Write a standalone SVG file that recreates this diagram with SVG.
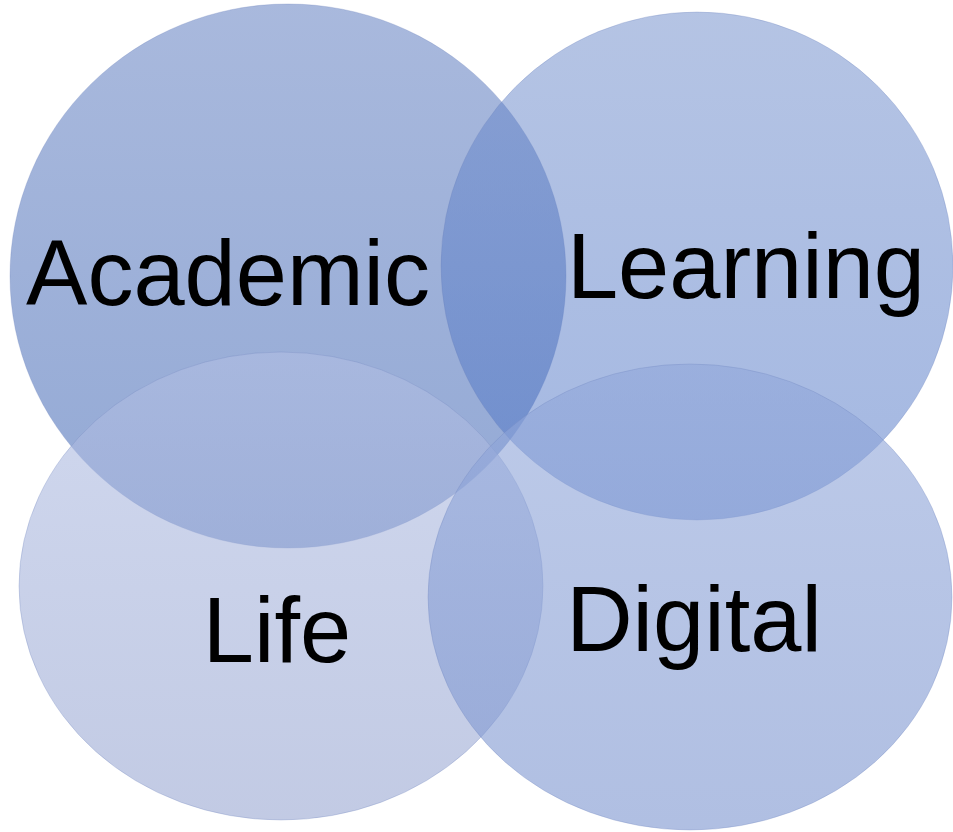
<svg xmlns="http://www.w3.org/2000/svg" width="953" height="832" viewBox="0 0 953 832">
<defs>
<linearGradient id="gA" x1="0" y1="0" x2="0" y2="1"><stop offset="0" stop-color="#5373bb"/><stop offset="1" stop-color="#2753ab"/></linearGradient>
<linearGradient id="gL" x1="0" y1="0" x2="0" y2="1"><stop offset="0" stop-color="#6b89c9"/><stop offset="1" stop-color="#4971c5"/></linearGradient>
<linearGradient id="gF" x1="0" y1="0" x2="0" y2="1"><stop offset="0" stop-color="#b1bee3"/><stop offset="1" stop-color="#99a7d2"/></linearGradient>
<linearGradient id="gD" x1="0" y1="0" x2="0" y2="1"><stop offset="0" stop-color="#91a7da"/><stop offset="1" stop-color="#7b94cf"/></linearGradient>
</defs>
<style>
.c{stroke:#6a80b8;stroke-opacity:0.35;stroke-width:0.8}
.a5{fill-opacity:0.5}
.a6{fill-opacity:0.6}
.t{font-family:"Liberation Sans",Arial,sans-serif;font-size:92px;fill:#000;text-anchor:middle}
</style>
<rect width="953" height="832" fill="#fff"/>
<g id="academic"><ellipse class="c a5" cx="288" cy="276" rx="278" ry="272" fill="url(#gA)"/></g>
<g id="learning"><ellipse class="c a5" cx="697" cy="266" rx="256" ry="254" fill="url(#gL)"/></g>
<g id="life"><ellipse class="c a6" cx="281" cy="586" rx="262" ry="234" fill="url(#gF)"/></g>
<g id="digital"><ellipse class="c a6" cx="690" cy="597" rx="262" ry="233" fill="url(#gD)"/></g>
<g id="connectors"/>
<g id="labels">
<text class="t" x="228" y="305">Academic</text>
<text class="t" x="746" y="298">Learning</text>
<text class="t" x="277" y="662">Life</text>
<text class="t" x="694" y="651">Digital</text>
</g>
</svg>
